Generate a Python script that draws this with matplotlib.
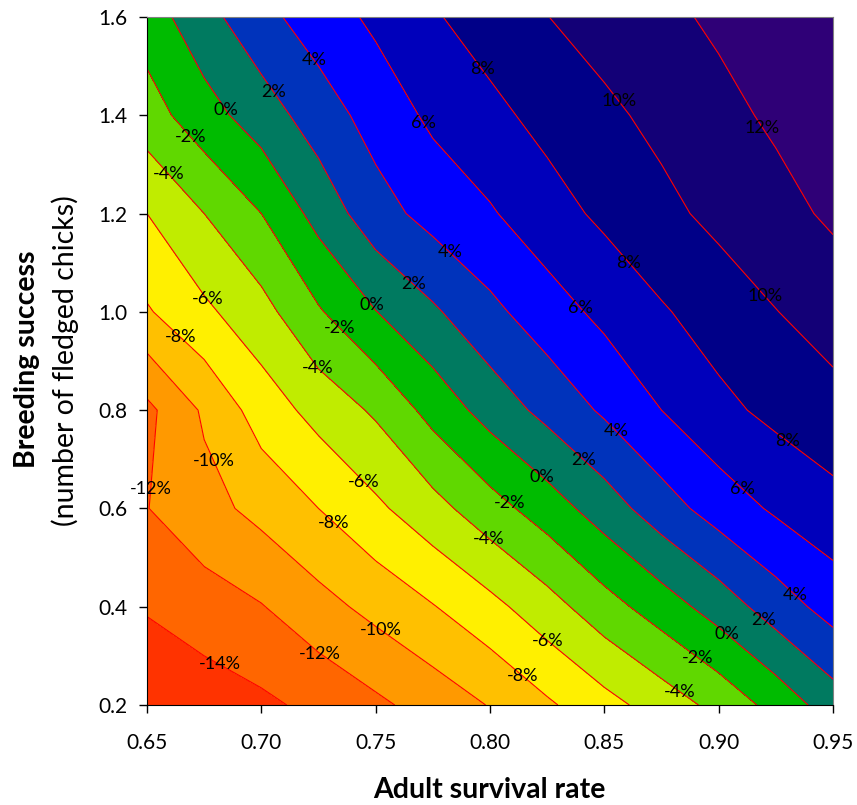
import numpy as np
import matplotlib
matplotlib.use('Agg')
import matplotlib.pyplot as plt

# adult survival rate (x) and breeding success (y) grid
survival = [0.65, 0.675, 0.70, 0.725, 0.75, 0.775, 0.80,
            0.825, 0.85, 0.875, 0.90, 0.925, 0.95]
breeding = [0.2, 0.4, 0.6, 0.8, 1.0, 1.2, 1.4, 1.6]

# population growth rate (%), one row per breeding success value
growth_020 = [-15.8, -15.1, -14.4, -13.5, -12.4, -11.2, -9.9,
              -8.3, -6.7, -5.1, -3.4, -1.3, 1.0]
growth_040 = [-13.8, -12.9, -12.1, -10.7, -9.4, -8.1, -6.6,
              -4.8, -2.8, -1.0, 0.9, 3.0, 4.8]
growth_060 = [-12.05, -10.7, -9.4, -8.0, -6.4, -4.7, -2.8,
              -1.0, 1.0, 3.1, 4.9, 6.3, 7.35]
growth_080 = [-12.5, -9.7, -7.1, -5.3, -3.7, -1.3, 0.8,
              2.6, 4.3, 6.0, 7.5, 8.5, 9.3]
growth_100 = [-8.2, -6.4, -4.7, -2.2, -0.05, 1.7, 3.5,
              5.1, 6.5, 7.8, 8.9, 9.95, 10.9]
growth_120 = [-6.0, -4.0, -2.0, 0.7, 3.2, 4.7, 5.8,
              7.2, 8.4, 9.5, 10.5, 11.4, 12.3]
growth_140 = [-2.9, -0.8, 1.0, 3.0, 4.8, 6.4, 7.5,
              8.6, 9.6, 10.5, 11.5, 12.3, 12.9]
growth_160 = [-1.0, 1.3, 3.4, 5.0, 6.4, 7.8, 8.9,
              9.97, 10.8, 11.6, 12.3, 12.8, 13.4]

line_levels = [-14, -12, -10, -8, -6, -4, -2, 0, 2, 4, 6, 8, 10, 12]
band_colors = ['#FF3300', '#FF6600', '#FF9900', '#FFC000', '#FFF000',
               '#C0EC00', '#60D800', '#00BB00', '#007A60', '#0033BB',
               '#0000FF', '#0000BB', '#000088', '#130077', '#2F0077']

x_ticks = [0.65, 0.70, 0.75, 0.80, 0.85, 0.90, 0.95]
x_tick_labels = ['0.65', '0.70', '0.75', '0.80', '0.85', '0.90', '0.95']
y_ticks = [0.2, 0.4, 0.6, 0.8, 1.0, 1.2, 1.4, 1.6]
y_tick_labels = ['0.2', '0.4', '0.6', '0.8', '1.0', '1.2', '1.4', '1.6']

# where the contour labels sit (layout)
label_spots = [
    (0.722, 1.510), (0.795, 1.488), (0.685, 1.411), (0.705, 1.447),
    (0.856, 1.427), (0.770, 1.382), (0.669, 1.354), (0.919, 1.374),
    (0.659, 1.278), (0.783, 1.124), (0.860, 1.097), (0.766, 1.053),
    (0.748, 1.012), (0.840, 1.008), (0.919, 1.028), (0.675, 1.020),
    (0.733, 0.963), (0.664, 0.945), (0.724, 0.884), (0.855, 0.756),
    (0.929, 0.729), (0.841, 0.699), (0.678, 0.694), (0.822, 0.660),
    (0.746, 0.660), (0.909, 0.633), (0.6535, 0.638), (0.808, 0.609),
    (0.732, 0.572), (0.799, 0.536), (0.932, 0.418), (0.919, 0.369),
    (0.904, 0.345), (0.752, 0.349), (0.825, 0.328), (0.891, 0.296),
    (0.726, 0.306), (0.682, 0.285), (0.814, 0.257), (0.884, 0.233),
]

TXT = ['Lato', 'DejaVu Sans']

X, Y = np.meshgrid(survival, breeding)
Z = np.array([growth_020, growth_040, growth_060, growth_080,
              growth_100, growth_120, growth_140, growth_160])

fig = plt.figure(figsize=(8.57, 8.05), dpi=100)
ax = fig.add_axes([147 / 857, 1 - 705 / 805, 686 / 857, 688 / 805])

band_levels = [-30] + line_levels + [30]
ax.contourf(X, Y, Z, levels=band_levels, colors=band_colors)
cs = ax.contour(X, Y, Z, levels=line_levels, colors='#FF0000',
                linewidths=0.8, linestyles='solid')
labels = ax.clabel(cs, fmt=lambda v: f'{v:.0f}%', manual=label_spots,
                   inline=False, fontsize=13, colors='black')
for t in labels:
    t.set_family(TXT)
    t.set_rotation(0)
    t.set_clip_on(False)

ax.set_xlim(0.65, 0.95)
ax.set_ylim(0.2, 1.6)
ax.set_xticks(x_ticks)
ax.set_xticklabels(x_tick_labels, family=TXT, fontsize=15)
ax.set_yticks(y_ticks)
ax.set_yticklabels(y_tick_labels, family=TXT, fontsize=15)
ax.tick_params(axis='x', direction='out', length=6, width=1, pad=14,
               colors='black')
ax.tick_params(axis='y', direction='out', length=6, width=1, pad=8,
               colors='black')

for side in ['left', 'bottom']:
    ax.spines[side].set_color('black')
for side in ['top', 'right']:
    ax.spines[side].set_color('#808080')

fig.text(489 / 857, 1 - 790 / 805, 'Adult survival rate',
         ha='center', va='center', fontsize=20.5, fontweight='bold',
         family=TXT)
fig.text(27 / 857, 1 - 359 / 805, 'Breeding success', rotation=90,
         ha='center', va='center', fontsize=20.5, fontweight='bold',
         family=TXT)
fig.text(65 / 857, 1 - 361 / 805, '(number of fledged chicks)', rotation=90,
         ha='center', va='center', fontsize=20.5, family=TXT)

plt.savefig('out.png', dpi=100)
plt.close()
